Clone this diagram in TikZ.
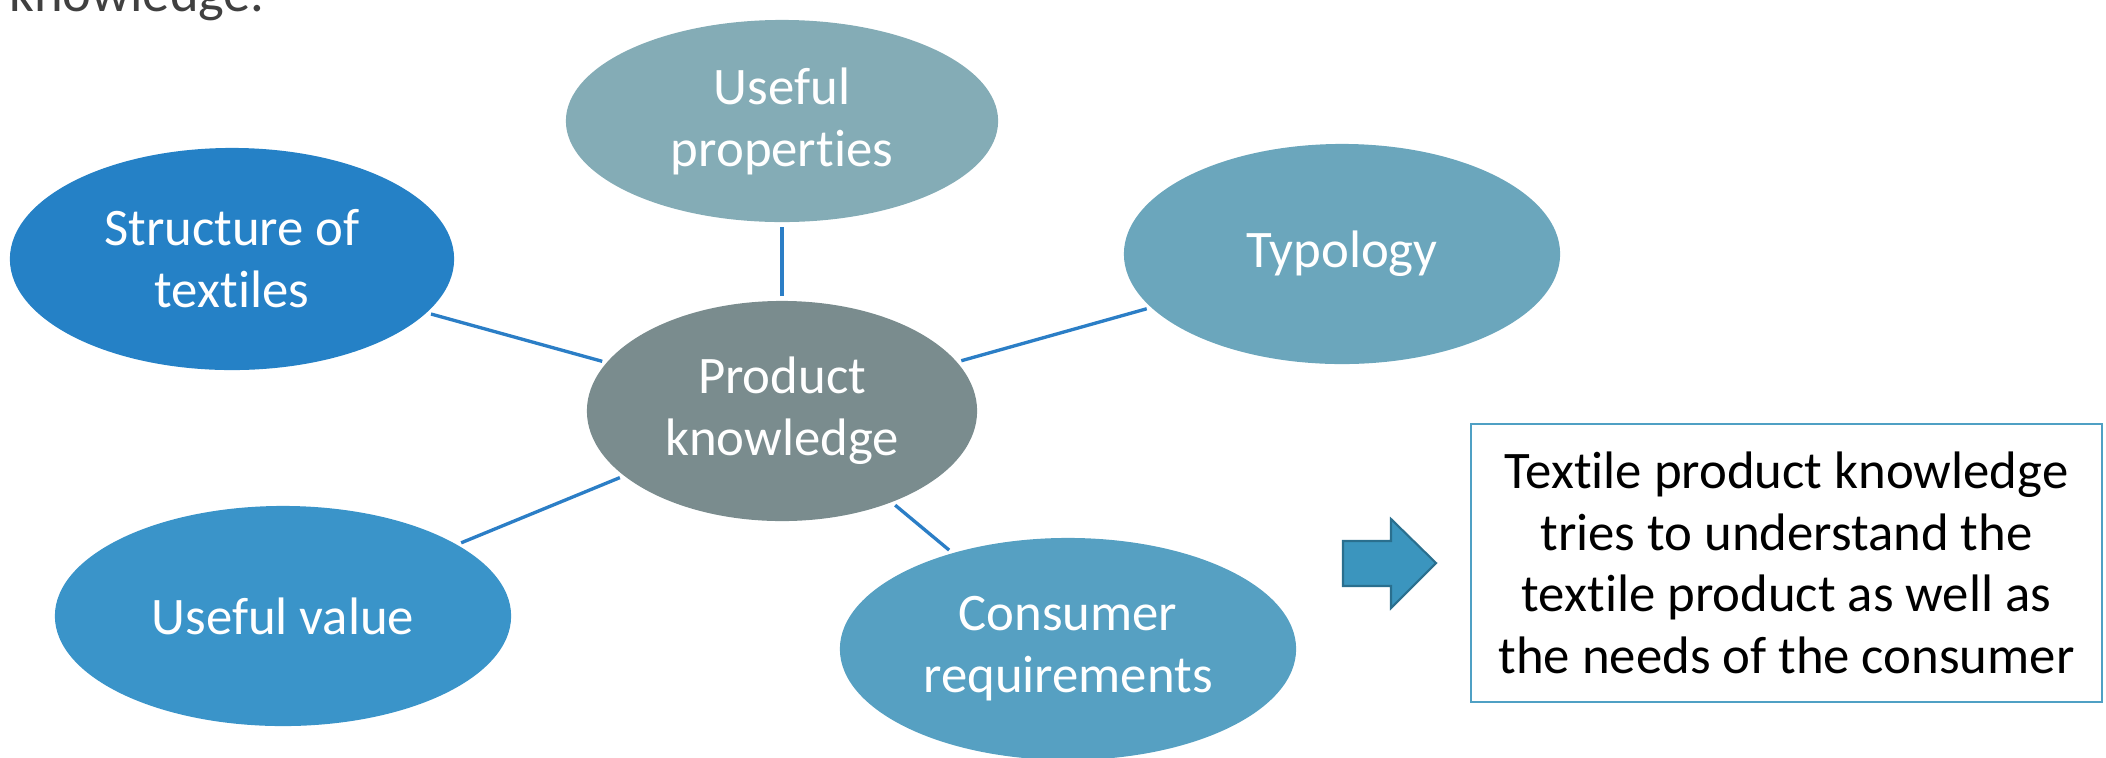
\documentclass[tikz,border=0pt]{standalone}
\usepackage{fontspec}
\setmainfont{Carlito}[Ligatures=NoCommon]
\usepackage{tikz}
\usetikzlibrary{shapes.geometric}
\usepackage{xcolor}

\definecolor{cprop}{HTML}{84ACB6}
\definecolor{cstruct}{HTML}{2581C6}
\definecolor{ctypo}{HTML}{6BA6BC}
\definecolor{cpk}{HTML}{7A8C8E}
\definecolor{cvalue}{HTML}{3A94C9}
\definecolor{ccons}{HTML}{56A0C2}
\definecolor{linkblue}{HTML}{2B7EC6}
\definecolor{boxblue}{HTML}{4FA0C4}
\definecolor{arrowfill}{HTML}{3B95BE}
\definecolor{arrowline}{HTML}{2A6F8E}
\definecolor{textgray}{HTML}{404040}

\tikzset{
    bubble/.style={ellipse, inner sep=0pt, text=white, align=center,
        font=\fontsize{15}{17.6}\selectfont},
    link/.style={draw=linkblue, line width=0.95pt, shorten <=0.04cm, shorten >=0.04cm}
}

\begin{document}
\begin{tikzpicture}[x=0.01cm,y=-0.01cm]
        \useasboundingbox (0,0) rectangle (2106,757);
        \node[anchor=base west, text=textgray, font=\fontsize{15.5}{18}\selectfont] (intro) at (-3,11) {knowledge.};
        \node[bubble, fill=cpk, minimum width=3.9cm, minimum height=2.2cm] (pk) at (782,411) {Product\\knowledge};
        \node[bubble, fill=cprop, minimum width=4.32cm, minimum height=2.02cm] (prop) at (782,121) {Useful\\properties};
        \node[bubble, fill=cstruct, minimum width=4.44cm, minimum height=2.22cm] (struct) at (232,259) {Structure of\\textiles};
        \node[bubble, fill=ctypo, minimum width=4.36cm, minimum height=2.2cm] (typo) at (1342,254) {Typology};
        \node[bubble, fill=cvalue, minimum width=4.56cm, minimum height=2.2cm] (value) at (283,616) {Useful value};
        \node[bubble, fill=ccons, minimum width=4.56cm, minimum height=2.22cm] (cons) at (1068,649) {Consumer\\requirements};
        \foreach \n in {prop, struct, typo, value, cons}
        {
            \draw[link] (pk) -- (\n);
        }
        \node[draw=boxblue, line width=0.45pt, minimum width=6.31cm, minimum height=2.78cm,
            align=center, font=\fontsize{15}{17.5}\selectfont] (note) at (1786.5,563)
            {Textile product knowledge\\tries to understand the\\textile product as well as\\the needs of the consumer};
        \draw[fill=arrowfill, draw=arrowline, line width=0.6pt]
            (1343,541) -- (1391,541) -- (1391,519) -- (1436,563) -- (1391,608) -- (1391,586) -- (1343,586) -- cycle;
    \end{tikzpicture}
\end{document}
